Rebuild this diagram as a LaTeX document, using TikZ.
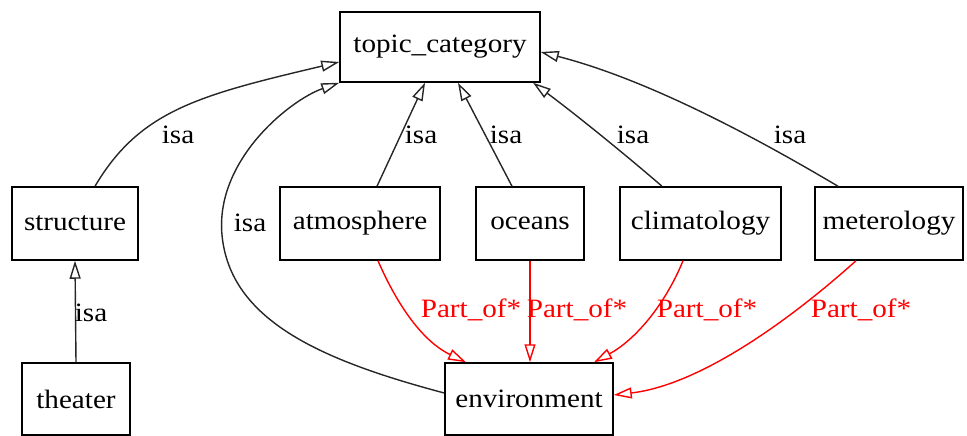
\documentclass[tikz,border=0pt]{standalone}
\usepackage{fontspec}
\setmainfont[FakeStretch=1.1]{Liberation Serif}
\usetikzlibrary{arrows.meta}
\begin{document}
\begin{tikzpicture}[x=1pt,y=-1pt,
  box/.style={draw,line width=1.5pt,rectangle,inner sep=0pt,font=\fontsize{26.5}{29}\selectfont},
  isa/.style={draw=black!85,line width=1.4pt,-{Triangle[open,length=18pt,width=11pt]}},
  part/.style={draw=red,line width=1.4pt,-{Triangle[open,length=18pt,width=11pt]}},
  lbl/.style={font=\fontsize{26.5}{29}\selectfont,inner sep=0pt},
  rlbl/.style={lbl,text=red}]
\useasboundingbox (0,0) rectangle (967,436);

\node[box,minimum width=200pt,minimum height=70pt] (topic) at (440,47) {topic\_category};
\node[box,minimum width=126pt,minimum height=73pt] (structure) at (75,223.5) {structure};
\node[box,minimum width=160pt,minimum height=73pt] (atmos) at (360,223.5) {atmosphere};
\node[box,minimum width=108pt,minimum height=73pt] (oceans) at (530,223.5) {oceans};
\node[box,minimum width=161pt,minimum height=73pt] (clim) at (700.5,223.5) {climatology};
\node[box,minimum width=148pt,minimum height=73pt] (meter) at (889,223.5) {meterology};
\node[box,minimum width=108pt,minimum height=72pt] (theater) at (76,399) {theater};
\node[box,minimum width=168pt,minimum height=72pt] (env) at (529,399) {environment};

% isa links towards topic_category
\draw[isa] (structure.north -| 95,0) .. controls (140,110) and (200,95) .. (topic.west |- 0,62);
\draw[isa] (env.west |- 0,393) .. controls (320,360) and (230,320) .. (222,235)
  .. controls (215,160) and (290,100) .. (topic.south west);
\draw[isa] (atmos.north -| 377,0) -- (topic.south -| 425,0);
\draw[isa] (oceans.north -| 512,0) -- (topic.south -| 458,0);
\draw[isa] (clim.north -| 662,0) .. controls (620,150) and (570,110) .. (topic.south -| 533,0);
\draw[isa] (meter.north -| 838,0) .. controls (760,140) and (650,80) .. (topic.east |- 0,52);
\draw[isa] (theater.north) -- (structure.south);

% part-of links towards environment
\draw[part] (atmos.south -| 378,0) .. controls (395,300) and (420,340) .. (env.north -| 466,0);
\draw[part] (oceans.south -| 530,0) -- (env.north -| 530,0);
\draw[part] (clim.south -| 683,0) .. controls (665,305) and (635,340) .. (env.north -| 594,0);
\draw[part] (meter.south -| 856,0) .. controls (790,320) and (700,385) .. (env.east |- 0,395);

% edge labels
\node[lbl] (l1) at (178,135) {isa};
\node[lbl] (l2) at (250,223) {isa};
\node[lbl] (l3) at (421,135) {isa};
\node[lbl] (l4) at (506,135) {isa};
\node[lbl] (l5) at (633,135) {isa};
\node[lbl] (l6) at (790,135) {isa};
\node[lbl] (l7) at (91,313) {isa};
\node[rlbl] (p1) at (471,310) {Part\_of*};
\node[rlbl] (p2) at (577,310) {Part\_of*};
\node[rlbl] (p3) at (707,310) {Part\_of*};
\node[rlbl] (p4) at (861,310) {Part\_of*};
\end{tikzpicture}
\end{document}
